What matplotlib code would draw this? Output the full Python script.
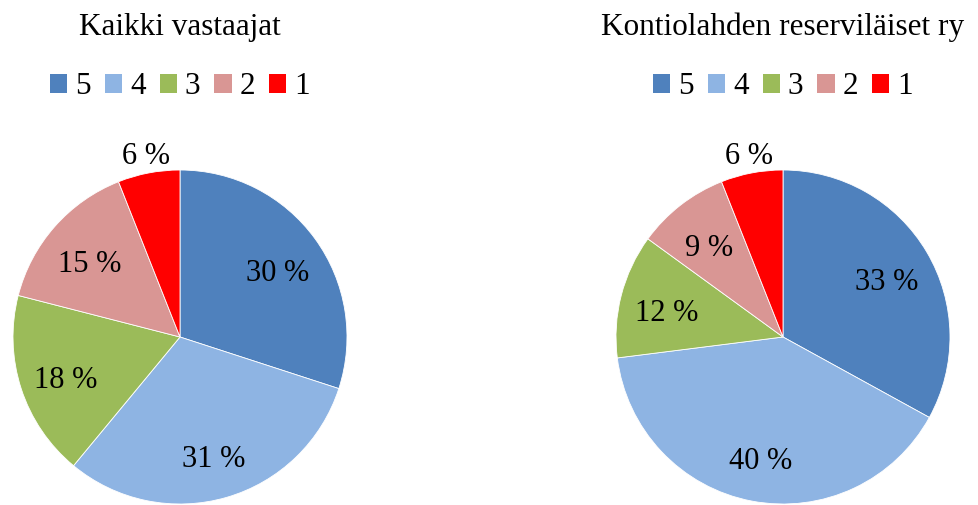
import matplotlib
matplotlib.use("Agg")
import matplotlib.pyplot as plt
from matplotlib.patches import Patch
import numpy as np

plt.rcParams['font.family'] = ['Liberation Serif', 'DejaVu Serif']

categories = ["5", "4", "3", "2", "1"]
colors = ["#4F81BD", "#8EB4E3", "#9BBB59", "#D99694", "#FF0000"]

titles = ["Kaikki vastaajat", "Kontiolahden reserviläiset ry"]
kaikki = [30, 31, 18, 15, 6]
kontiolahti = [33, 40, 12, 9, 6]

W, H = 979, 505
fig = plt.figure(figsize=(W / 100, H / 100), dpi=100)

centers = [(180, 337), (783, 337)]
R = 167

for (cx, cy), title, vals in zip(centers, titles, [kaikki, kontiolahti]):
    ax = fig.add_axes([(cx - R) / W, (H - cy - R) / H, 2 * R / W, 2 * R / H])
    ax.pie(vals, colors=colors, startangle=90, counterclock=False,
           wedgeprops=dict(edgecolor="white", linewidth=0.6))
    ax.set_xlim(-1, 1)
    ax.set_ylim(-1, 1)
    ax.set_aspect("equal")
    ax.axis("off")

    # percentage labels
    total = sum(vals)
    start = 0
    for v in vals:
        mid = 90 - (start + v / 2) / total * 360
        start += v
        small = v / total < 0.08
        d = 1.1 if small else 0.72
        ang = np.deg2rad(mid)
        y = d * np.sin(ang) - (0 if small else 0.04)
        ax.text(d * np.cos(ang), y, f"{v} %",
                ha="center", va="center", fontsize=22)

    fig.text(cx / W, 1 - 27 / H, title, ha="center", va="center", fontsize=22.5)
    handles = [Patch(facecolor=c, edgecolor="none") for c in colors]
    fig.legend(handles, categories, loc="center", bbox_to_anchor=(cx / W, 1 - 87 / H),
               ncol=5, frameon=False, fontsize=22.5, handlelength=0.55,
               handleheight=0.55, handletextpad=0.25, columnspacing=0.45)

fig.savefig("out.png", dpi=100)
